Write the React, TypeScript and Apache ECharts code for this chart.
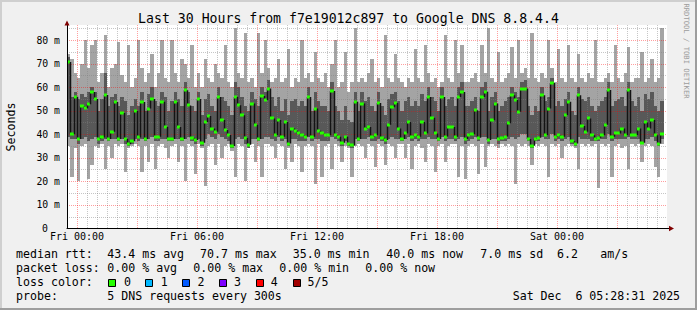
import React, { useEffect, useRef } from 'react';
import * as echarts from 'echarts';

// ---- time axis (minutes from Thu 23:30) ----
const STEP_MIN = 10;
const SPAN_MIN = 1800;
const Y_MAX = 86.4;
const X_LABEL_MINUTES = [30, 390, 750, 1110, 1470];
const X_LABELS = ['Fri 00:00', 'Fri 06:00', 'Fri 12:00', 'Fri 18:00', 'Sat 00:00'];
const Y_LABEL_VALUES = [0, 10, 20, 30, 40, 50, 60, 70, 80];

// ---- ping data, ms, one entry per 10-minute slot ----
const MEDIAN = [
  70.7, 40, 55.9, 38, 51.9, 51, 52.7, 57.9, 54.9, 38, 38.6, 56.6, 38, 41, 53.7, 38, 49, 38, 35.7, 37,
  49.9, 38.6, 53.7, 38, 50.9, 54.9, 38.9, 38.9, 53.8, 43, 38, 38, 53.6, 43, 38, 58.7, 52.2, 38.5, 37.5, 54.9,
  36.4, 45.2, 47.7, 42.4, 41, 55.8, 46, 41.8, 39.6, 35.0, 55.8, 52.3, 48, 38.5, 35.5, 53, 44, 38, 56.2, 54.5,
  59.4, 46.7, 39.5, 46, 38.9, 45.2, 36, 42.4, 41.5, 40.3, 39.5, 39, 55.8, 38.9, 50.9, 41.5, 40.3, 39.8, 39.5, 58.3,
  39.5, 38.9, 36.4, 38.9, 35.7, 35.2, 53.8, 38, 53, 42.4, 43, 38.9, 39.5, 53.3, 38.5, 37.5, 44, 51.4, 53.3, 42.4,
  38, 40.3, 45.2, 39, 39.5, 38.9, 45.2, 40.3, 55.8, 47, 40.3, 38, 55.8, 39, 43, 43, 38.9, 55.8, 57.9, 38,
  39.5, 40, 50.2, 38.5, 55.8, 58, 37.5, 45.9, 53, 37.8, 38.5, 39, 44.6, 56.5, 54.5, 49.5, 59.4, 59.4, 38, 35.1,
  38, 38.5, 56.5, 39.5, 50.9, 61.8, 38.9, 39.5, 38.9, 48, 53.8, 37, 36, 56.5, 43.5, 41, 46.7, 39.5, 38, 38.5,
  39.5, 44, 58.8, 38.9, 40.3, 40.3, 42.4, 39.5, 58.8, 39.5, 39.5, 42.4, 36.4, 45, 42.4, 46, 39.5, 36, 40, null,
];
const MIN_RTT = [
  35, 22, 34, 20, 35, 36, 21, 27, 35, 34, 36, 25, 35, 30, 36, 35, 36, 24, 34, 35,
  36, 35, 24, 35, 28, 36, 25, 35, 36, 34, 30, 35, 36, 28, 35, 20, 36, 35, 23, 36,
  34, 18, 35, 36, 27, 36, 30, 35, 36, 33, 22, 36, 35, 20, 34, 36, 28, 35, 22, 36,
  36, 35, 30, 36, 35, 25, 34, 28, 36, 35, 24, 35, 36, 35, 19, 36, 22, 35, 36, 25,
  36, 35, 28, 35, 34, 22, 35, 36, 35, 30, 36, 35, 26, 36, 35, 27, 36, 35, 30, 36,
  36, 30, 36, 25, 35, 36, 34, 28, 36, 35, 24, 35, 36, 28, 35, 36, 36, 22, 35, 21,
  35, 36, 35, 23, 36, 26, 35, 36, 35, 34, 36, 35, 36, 35, 19, 36, 35, 36, 35, 27,
  36, 35, 36, 35, 22, 36, 35, 36, 30, 35, 36, 35, 34, 25, 36, 35, 36, 35, 36, 17,
  36, 35, 36, 22, 35, 36, 34, 35, 25, 36, 35, 36, 28, 35, 36, 35, 26, 22, 36, null,
];
const P2 = [
  39, 38, 38, 36, 38, 39, 37, 38, 39, 36, 37, 38, 37, 38, 38, 37, 38, 36, 35, 36,
  38, 37, 38, 37, 38, 39, 37, 37, 38, 38, 37, 37, 38, 38, 37, 38, 39, 37, 36, 38,
  35, 38, 40, 39, 38, 40, 39, 38, 37, 34, 38, 39, 38, 36, 34, 38, 38, 37, 38, 39,
  39, 38, 37, 39, 37, 38, 35, 38, 38, 37, 37, 37, 39, 37, 38, 38, 37, 37, 37, 39,
  38, 37, 35, 37, 35, 34, 38, 37, 38, 38, 39, 37, 37, 38, 37, 36, 38, 39, 38, 38,
  37, 38, 39, 37, 38, 37, 38, 38, 39, 38, 38, 37, 39, 37, 38, 38, 37, 38, 39, 36,
  37, 38, 39, 37, 39, 39, 36, 38, 38, 36, 37, 37, 38, 39, 38, 39, 40, 40, 37, 34,
  37, 37, 39, 38, 38, 40, 37, 38, 37, 38, 39, 36, 35, 39, 38, 38, 38, 37, 37, 37,
  38, 38, 40, 37, 38, 38, 38, 38, 39, 38, 38, 38, 36, 38, 38, 39, 37, 35, 38, null,
];
const P4 = [
  73, 56, 58, 55, 57, 56, 58, 60, 58, 50, 55, 66, 52, 56, 57, 52, 56, 54, 48, 52,
  55, 52, 58, 50, 57, 60, 54, 52, 58, 56, 50, 54, 58, 55, 52, 62, 58, 52, 50, 58,
  48, 55, 57, 52, 50, 60, 56, 54, 52, 48, 62, 60, 56, 52, 50, 58, 55, 52, 60, 58,
  63, 56, 52, 56, 50, 55, 48, 54, 55, 52, 54, 52, 60, 50, 58, 54, 52, 52, 50, 62,
  52, 50, 46, 52, 46, 45, 58, 50, 58, 54, 56, 52, 50, 58, 52, 48, 55, 57, 58, 54,
  50, 54, 56, 52, 54, 52, 57, 54, 60, 56, 54, 50, 60, 52, 55, 56, 52, 60, 62, 52,
  52, 54, 56, 50, 60, 62, 50, 56, 58, 50, 52, 54, 56, 60, 58, 56, 62, 63, 52, 48,
  52, 50, 60, 54, 56, 64, 52, 54, 52, 55, 58, 50, 48, 60, 55, 54, 56, 52, 50, 52,
  54, 56, 62, 52, 54, 55, 56, 52, 62, 54, 52, 56, 50, 57, 55, 58, 52, 50, 54, null,
];
const MAX_RTT = [
  74, 72, 66, 64, 70, 80, 68, 78, 80, 62, 66, 82, 60, 68, 70, 79, 65, 62, 78, 60,
  64, 80, 68, 62, 66, 74, 60, 66, 80, 64, 62, 80, 66, 62, 72, 70, 64, 78, 60, 66,
  60, 72, 64, 62, 70, 66, 64, 78, 62, 60, 85, 66, 64, 83, 62, 64, 60, 83, 66, 80,
  68, 62, 64, 72, 62, 64, 76, 60, 64, 62, 80, 64, 66, 62, 75, 64, 62, 66, 60, 70,
  80, 60, 62, 75, 58, 62, 85, 62, 64, 62, 66, 72, 62, 64, 60, 82, 64, 62, 74, 64,
  62, 60, 64, 62, 76, 64, 62, 78, 66, 62, 64, 60, 62, 82, 64, 62, 80, 66, 78, 62,
  62, 64, 66, 62, 78, 66, 85, 64, 62, 75, 62, 64, 66, 77, 64, 80, 66, 68, 64, 83,
  64, 62, 66, 64, 80, 68, 62, 76, 64, 62, 78, 64, 62, 74, 64, 62, 66, 64, 80, 62,
  62, 64, 66, 62, 78, 64, 62, 66, 77, 62, 64, 64, 75, 62, 64, 72, 62, 64, 85, null,
];

// ---- legend texts ----
const TITLE = 'Last 30 Hours from f7e19012c897 to Google DNS 8.8.4.4';
const Y_NAME = 'Seconds';
const WATERMARK = 'RRDTOOL / TOBI OETIKER';
const MEDIAN_STATS = ['median rtt:', '43.4 ms avg', '70.7 ms max', '35.0 ms min', '40.0 ms now', '7.0 ms sd', '6.2', 'am/s'];
const LOSS_STATS = ['packet loss:', '0.00 % avg', '0.00 % max', '0.00 % min', '0.00 % now'];
const LOSS_TITLE = 'loss color:';
const LOSS_LABELS = ['0', '1', '2', '3', '4', '5/5'];
const LOSS_COLORS = ['#26ff00', '#00b8ff', '#0059ff', '#7e00ff', '#ff0000', '#a10000'];
const PROBE_TEXT = ['probe:', '5 DNS requests every 300s'];
const DATE_TEXT = ['Sat Dec', '6 05:28:31 2025'];

// ---- styles ----
const MONO = '"DejaVu Sans Mono", monospace';
const BG = '#f0f0f0';
const SHADE_A = '#cfcfcf';
const SHADE_B = '#9e9e9e';
const SMOKE_OUTER = '#a4a4a4';
const SMOKE_INNER = '#585858';
const MEDIAN_LINE = '#141414';
const GRID_MINOR = 'rgba(128,128,128,0.45)';
const GRID_MAJOR = 'rgba(255,0,0,0.38)';
const ARROW = '#800000';

function buildOption(): any {
  const smokeData: number[][] = [];
  const medianData: number[][] = [];
  for (let i = 0; i < MEDIAN.length; i++) {
    const m = MEDIAN[i];
    if (m == null) continue;
    const t = i * STEP_MIN;
    smokeData.push([t, MIN_RTT[i] as number, P2[i] as number, P4[i] as number, MAX_RTT[i] as number]);
    const prev = i > 0 && MEDIAN[i - 1] != null ? (MEDIAN[i - 1] as number) : m;
    medianData.push([t, m, prev]);
  }

  const labelMap: Record<number, string> = {};
  X_LABEL_MINUTES.forEach((m, k) => (labelMap[m] = X_LABELS[k]));

  const vGrid: number[][] = [];
  for (let t = 30; t < SPAN_MIN; t += 30) {
    vGrid.push([t, (t - 30) % 180 === 0 ? 1 : 0]);
  }
  const hGrid: number[][] = [];
  for (let v = 5; v <= 85; v += 5) {
    hGrid.push([0, v, v % 10 === 0 ? 1 : 0]);
  }

  const lineY = [254, 268, 282, 296];
  const txt = (x: number, y: number, text: string, extra: any = {}) => ({
    type: 'text',
    x,
    y,
    silent: true,
    style: {
      text,
      font: `11.6px ${MONO}`,
      fill: '#000',
      align: 'left',
      textAlign: 'left',
      verticalAlign: 'middle',
      textVerticalAlign: 'middle',
      ...extra,
    },
  });

  const medianX = [16, 107.3, 200, 292.7, 386.3, 480.3, 557, 600.3];
  const lossX = [16, 107.3, 193.3, 279.3, 365.3];
  const graphics: any[] = [
    { type: 'rect', shape: { x: 0, y: 0, width: 697, height: 2 }, style: { fill: SHADE_A }, silent: true },
    { type: 'rect', shape: { x: 0, y: 0, width: 2, height: 310 }, style: { fill: SHADE_A }, silent: true },
    { type: 'rect', shape: { x: 0, y: 308, width: 697, height: 2 }, style: { fill: SHADE_B }, silent: true },
    { type: 'rect', shape: { x: 695, y: 0, width: 2, height: 310 }, style: { fill: SHADE_B }, silent: true },
    txt(348.5, 18.5, TITLE, { font: `13.2px ${MONO}`, align: 'center', textAlign: 'center' }),
    {
      type: 'text', x: 10.5, y: 127, rotation: Math.PI / 2, silent: true,
      style: { text: Y_NAME, font: `11.6px ${MONO}`, fill: '#000', align: 'center', textAlign: 'center', verticalAlign: 'middle', textVerticalAlign: 'middle' },
    },
    {
      type: 'text', x: 686.5, y: 51, rotation: -Math.PI / 2, silent: true,
      style: { text: WATERMARK, font: `7.2px ${MONO}`, fill: '#9c9c9c', align: 'center', textAlign: 'center', verticalAlign: 'middle', textVerticalAlign: 'middle' },
    },
    { type: 'polygon', shape: { points: [[64.5, 25.5], [69.5, 25.5], [67, 20.5]] }, style: { fill: ARROW }, silent: true, z: 20 },
    { type: 'line', shape: { x1: 667, y1: 228.5, x2: 669, y2: 228.5 }, style: { stroke: '#000', lineWidth: 1 }, silent: true },
    { type: 'polygon', shape: { points: [[669, 225.8], [669, 231.2], [674, 228.5]] }, style: { fill: ARROW }, silent: true, z: 20 },
  ];
  MEDIAN_STATS.forEach((s, k) => graphics.push(txt(medianX[k], lineY[0], s)));
  LOSS_STATS.forEach((s, k) => graphics.push(txt(lossX[k], lineY[1], s)));
  graphics.push(txt(16, lineY[2], LOSS_TITLE));
  LOSS_LABELS.forEach((s, k) => {
    const bx = 108.5 + k * 37;
    graphics.push({
      type: 'rect', silent: true,
      shape: { x: bx, y: 279.5, width: 7, height: 7 },
      style: { fill: LOSS_COLORS[k], stroke: '#000', lineWidth: 1 },
    });
    graphics.push(txt(124 + k * 36.7, lineY[2], s));
  });
  graphics.push(txt(16, lineY[3], PROBE_TEXT[0]));
  graphics.push(txt(107.3, lineY[3], PROBE_TEXT[1]));
  graphics.push(txt(512.7, lineY[3], DATE_TEXT[0]));
  graphics.push(txt(575.4, lineY[3], DATE_TEXT[1]));

  const richLabel = { fontFamily: MONO, fontSize: 9.8, color: '#000' };

  return {
    animation: false,
    backgroundColor: BG,
    grid: {
      left: 67, right: 30, top: 25, bottom: 81.7,
      show: true, backgroundColor: '#ffffff', borderWidth: 0, containLabel: false,
    },
    xAxis: {
      type: 'value', min: 0, max: SPAN_MIN, interval: 30, z: 10,
      axisLine: { show: true, lineStyle: { color: '#000', width: 1 } },
      axisTick: { show: false },
      splitLine: { show: false },
      axisLabel: {
        formatter: (v: number) => labelMap[v] ?? '',
        fontFamily: MONO, fontSize: 10, color: '#000', margin: 3,
        hideOverlap: false,
      },
    },
    yAxis: {
      type: 'value', min: 0, max: Y_MAX, interval: 10, z: 10,
      axisLine: { show: true, lineStyle: { color: '#000', width: 1 } },
      axisTick: { show: false },
      splitLine: { show: false },
      axisLabel: {
        showMaxLabel: false,
        formatter: (v: number) =>
          Y_LABEL_VALUES.indexOf(v) < 0 ? '' : v === 0 ? '{z|0}' : `{a|${v} m}`,
        fontFamily: MONO, fontSize: 9.8, color: '#000', margin: 7,
        rich: {
          a: { ...richLabel },
          z: { ...richLabel, padding: [0, 12, 0, 0] },
        },
      },
    },
    graphic: { elements: graphics },
    series: [
      {
        type: 'custom', name: 'smoke', z: 2, silent: true, clip: true,
        data: smokeData,
        renderItem: (params: any, api: any) => {
          const t0 = api.value(0);
          const x0 = Math.round(api.coord([t0, 0])[0]);
          const x1 = Math.round(api.coord([t0 + STEP_MIN, 0])[0]);
          const yv = (v: number) => Math.round(api.coord([t0, v])[1]);
          const yMin = yv(api.value(1));
          const yP2 = yv(api.value(2));
          const yP4 = yv(api.value(3));
          const yMax = yv(api.value(4));
          return {
            type: 'group',
            children: [
              { type: 'rect', shape: { x: x0, y: yMax, width: x1 - x0, height: yMin - yMax }, style: { fill: SMOKE_OUTER } },
              { type: 'rect', shape: { x: x0, y: yP4, width: x1 - x0, height: yP2 - yP4 }, style: { fill: SMOKE_INNER } },
            ],
          };
        },
      },
      {
        type: 'custom', name: 'vgrid', z: 3, silent: true,
        data: vGrid,
        renderItem: (params: any, api: any) => {
          const t = api.value(0);
          const major = api.value(1) === 1;
          const x = Math.round(api.coord([t, 0])[0]) + 0.5;
          const yb = api.coord([t, 0])[1];
          const yt = api.coord([t, Y_MAX])[1];
          return {
            type: 'line',
            shape: { x1: x, y1: yt, x2: x, y2: yb },
            style: { stroke: major ? GRID_MAJOR : GRID_MINOR, lineWidth: 1, lineDash: [1, 1] },
          };
        },
      },
      {
        type: 'custom', name: 'hgrid', z: 3, silent: true,
        data: hGrid,
        renderItem: (params: any, api: any) => {
          const v = api.value(1);
          const major = api.value(2) === 1;
          const y = Math.round(api.coord([0, v])[1]) + 0.5;
          const xl = api.coord([0, v])[0];
          const xr = api.coord([SPAN_MIN, v])[0];
          return {
            type: 'line',
            shape: { x1: xl, y1: y, x2: xr, y2: y },
            style: { stroke: major ? GRID_MAJOR : GRID_MINOR, lineWidth: 1, lineDash: [1, 1] },
          };
        },
      },
      {
        type: 'custom', name: 'median', z: 4, silent: true, clip: true,
        data: medianData,
        renderItem: (params: any, api: any) => {
          const t0 = api.value(0);
          const med = api.value(1);
          const prev = api.value(2);
          const x0 = Math.round(api.coord([t0, med])[0]);
          const x1 = Math.round(api.coord([t0 + STEP_MIN, med])[0]);
          const y = api.coord([t0, med])[1];
          const yp = api.coord([t0, prev])[1];
          return {
            type: 'group',
            children: [
              { type: 'line', shape: { x1: x0 + 0.5, y1: yp, x2: x0 + 0.5, y2: y }, style: { stroke: MEDIAN_LINE, lineWidth: 1.5 } },
              { type: 'rect', shape: { x: x0, y: Math.round(y) - 1.5, width: x1 - x0, height: 3 }, style: { fill: LOSS_COLORS[0] } },
            ],
          };
        },
      },
    ],
  };
}

export default function App() {
  const ref = useRef<HTMLDivElement>(null);
  useEffect(() => {
    document.body.style.margin = '0';
    if (!ref.current) return;
    const chart = echarts.init(ref.current, undefined, { renderer: 'svg' });
    chart.setOption(buildOption());
    return () => chart.dispose();
  }, []);
  return <div ref={ref} style={{ width: 697, height: 310 }} />;
}
